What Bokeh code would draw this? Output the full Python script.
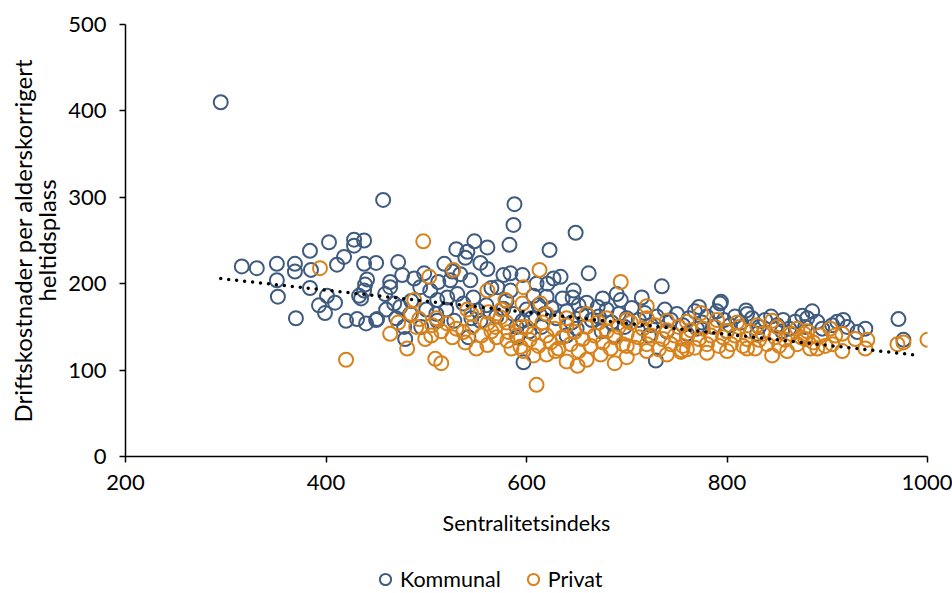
from bokeh.plotting import figure
from bokeh.models import Range1d, FixedTicker, Legend, LegendItem
from bokeh.layouts import column
from bokeh.embed import file_html
from bokeh.resources import INLINE

# ---- data ----
komm_x = [295, 457, 316, 331, 351, 351, 352, 369, 369, 370,
          384, 385, 384, 403, 411, 418, 401, 393, 399, 409,
          428, 428, 438, 438, 450, 441, 439, 438, 433, 435,
          420, 431, 440, 450, 588, 587, 583, 548, 561, 530,
          541, 539, 554, 472, 518, 526, 534, 464, 476, 488,
          498, 512, 524, 544, 561, 577, 584, 596, 597, 451,
          478, 479, 468, 459, 464, 474, 484, 494, 504, 511,
          521, 531, 537, 547, 551, 554, 528, 511, 577, 587,
          571, 584, 591, 596, 542, 649, 623, 662, 735, 627,
          634, 621, 647, 636, 646, 652, 676, 690, 694, 715,
          671, 607, 729, 794, 772, 819, 885, 971, 976, 938,
          930, 910, 916, 890, 875, 820, 793, 600, 605, 612,
          618, 625, 630, 640, 645, 655, 660, 665, 672, 680,
          685, 692, 700, 705, 712, 718, 724, 730, 738, 744,
          750, 756, 762, 768, 775, 780, 786, 790, 797, 803,
          808, 814, 825, 832, 838, 844, 850, 856, 862, 868,
          878, 895, 905, 620, 650, 675, 698, 740, 770, 800,
          560, 570, 580, 590, 603, 615, 640, 688, 722, 760,
          830, 855, 880, 920, 500, 510, 520, 545, 485, 495,
          470, 460, 565, 610]
komm_y = [410, 297, 220, 218, 223, 204, 185, 223, 214, 160,
          238, 216, 195, 248, 222, 231, 186, 175, 166, 178,
          251, 244, 250, 223, 224, 205, 199, 192, 186, 183,
          157, 159, 154, 158, 292, 268, 245, 249, 242, 240,
          237, 230, 224, 225, 223, 214, 211, 202, 210, 206,
          212, 202, 204, 204, 217, 210, 212, 210, 109, 159,
          150, 136, 177, 188, 196, 173, 165, 196, 192, 181,
          184, 188, 177, 184, 169, 157, 157, 157, 171, 165,
          196, 192, 138, 157, 138, 259, 239, 212, 197, 206,
          208, 200, 192, 183, 184, 175, 183, 188, 181, 184,
          173, 186, 111, 179, 173, 169, 168, 159, 135, 148,
          144, 156, 158, 156, 163, 165, 177, 170, 160, 175,
          165, 172, 160, 168, 155, 165, 178, 158, 162, 170,
          155, 165, 160, 172, 158, 166, 152, 162, 170, 158,
          165, 152, 160, 168, 155, 162, 150, 168, 158, 152,
          162, 155, 160, 150, 158, 162, 152, 158, 148, 156,
          150, 148, 152, 185, 148, 145, 150, 145, 148, 145,
          175, 162, 180, 150, 145, 150, 140, 140, 140, 142,
          142, 145, 160, 150, 170, 165, 170, 160, 180, 150,
          160, 170, 195, 200]

priv_x = [394, 420, 497, 527, 503, 597, 561, 579, 596, 488,
          541, 562, 574, 493, 506, 521, 464, 481, 499, 526,
          537, 539, 546, 561, 561, 569, 582, 581, 594, 509,
          515, 613, 694, 720, 614, 651, 610, 688, 700, 629,
          674, 607, 774, 845, 845, 754, 970, 976, 1000, 915,
          938, 928, 903, 908, 915, 878, 883, 940, 877, 597,
          600, 603, 607, 612, 616, 620, 624, 628, 632, 636,
          640, 644, 648, 652, 656, 660, 664, 668, 672, 676,
          680, 684, 688, 692, 696, 700, 704, 708, 712, 716,
          720, 724, 728, 732, 736, 740, 744, 748, 752, 756,
          760, 764, 768, 772, 776, 780, 784, 788, 792, 796,
          800, 804, 808, 812, 816, 820, 824, 828, 832, 836,
          840, 848, 852, 858, 864, 870, 874, 886, 893, 898,
          580, 585, 590, 595, 570, 565, 555, 550, 530, 515,
          505, 490, 472, 485, 510, 545, 575, 620, 640, 660,
          680, 700, 720, 740, 760, 790, 810, 830, 850, 870,
          880, 620, 660, 700, 740, 780, 820, 860, 890, 905,
          640, 720, 760, 800, 755]
priv_y = [218, 112, 249, 216, 208, 196, 192, 181, 177, 181,
          170, 167, 161, 159, 152, 154, 142, 125, 136, 138,
          144, 132, 150, 129, 154, 150, 144, 134, 127, 113,
          108, 216, 202, 174, 177, 105, 83, 108, 115, 122,
          118, 117, 166, 157, 117, 121, 130, 132, 135, 122,
          125, 136, 148, 140, 142, 136, 125, 135, 142, 122,
          150, 135, 142, 128, 155, 140, 132, 148, 125, 138,
          152, 130, 144, 122, 136, 150, 128, 140, 155, 132,
          145, 125, 138, 150, 130, 142, 155, 126, 138, 148,
          130, 140, 152, 124, 136, 146, 130, 140, 150, 128,
          138, 146, 126, 136, 148, 130, 140, 150, 128, 138,
          145, 130, 140, 150, 128, 136, 145, 125, 135, 142,
          130, 138, 128, 135, 142, 130, 138, 132, 140, 128,
          155, 125, 140, 150, 138, 145, 140, 125, 148, 145,
          140, 150, 155, 165, 160, 165, 170, 165, 160, 165,
          160, 158, 160, 157, 156, 158, 155, 152, 150, 148,
          145, 118, 112, 128, 118, 120, 125, 122, 125, 130,
          110, 122, 124, 122, 123]

trend_x = [295, 992]
trend_y = [206, 117]

x_ticks = [200, 400, 600, 800, 1000]
y_ticks = [0, 100, 200, 300, 400, 500]

series_names = ["Kommunal", "Privat"]
x_label = "Sentralitetsindeks"
y_label = "Driftskostnader per alderskorrigert\nheltidsplass"

# ---- style ----
FONT = "Lato"
BLUE = "#3F5B7F"
ORANGE = "#D8821C"
MARK = dict(size=14, marker="circle", fill_color=None, line_width=2)

p = figure(width=952, height=545, output_backend="svg", toolbar_location=None,
           x_range=Range1d(200, 1000), y_range=Range1d(0, 500),
           min_border_left=125, min_border_right=25, min_border_top=24,
           min_border_bottom=89)
p.outline_line_color = None
p.grid.grid_line_color = None

p.scatter(komm_x, komm_y, line_color=BLUE, **MARK)
p.scatter(priv_x, priv_y, line_color=ORANGE, **MARK)
p.line(trend_x, trend_y, line_color="black", line_width=3.5, line_dash="0 8",
       line_cap="round")

p.xaxis.ticker = FixedTicker(ticks=x_ticks)
p.yaxis.ticker = FixedTicker(ticks=y_ticks)
for ax in (p.xaxis, p.yaxis):
    ax.axis_line_color = "black"
    ax.axis_line_width = 1.5
    ax.major_tick_line_color = "black"
    ax.major_tick_line_width = 1.5
    ax.major_tick_in = 0
    ax.major_tick_out = 6
    ax.minor_tick_line_color = None
    ax.major_label_text_font = FONT
    ax.major_label_text_font_size = "22px"
    ax.major_label_text_color = "black"
    ax.axis_label_text_font = FONT
    ax.axis_label_text_font_style = "normal"
    ax.axis_label_text_color = "black"

p.xaxis.axis_label = x_label
p.yaxis.axis_label = y_label
p.xaxis.axis_label_text_font_size = "21.5px"
p.yaxis.axis_label_text_font_size = "24px"
p.yaxis.axis_label_text_line_height = 0.85
p.xaxis.major_label_standoff = 12
p.xaxis.axis_label_standoff = 17
p.yaxis.major_label_standoff = 13
p.yaxis.axis_label_standoff = 4

# ---- legend strip (a figure of its own below the chart) ----
# Its swatch renderers reuse one real point each, which lies outside this
# strip's ranges and is therefore never drawn here.
pl = figure(width=952, height=48, output_backend="svg", toolbar_location=None,
            x_axis_location=None, y_axis_location=None,
            x_range=Range1d(0, 1), y_range=Range1d(0, 1),
            min_border=0)
pl.outline_line_color = None
pl.grid.grid_line_color = None
lk = pl.scatter(komm_x[:1], komm_y[:1], line_color=BLUE, **MARK)
lp = pl.scatter(priv_x[:1], priv_y[:1], line_color=ORANGE, **MARK)
legend = Legend(items=[LegendItem(label=series_names[0], renderers=[lk]),
                       LegendItem(label=series_names[1], renderers=[lp])],
                orientation="horizontal", location=(246, 0),
                glyph_width=28, glyph_height=28, label_height=28,
                label_standoff=1, spacing=18, padding=0, margin=0,
                border_line_alpha=0, background_fill_alpha=0,
                label_text_font=FONT, label_text_font_size="21.5px",
                label_text_color="black")
pl.add_layout(legend)

layout = column(p, pl, spacing=0)
open("out.html", "w").write(file_html(layout, INLINE))
